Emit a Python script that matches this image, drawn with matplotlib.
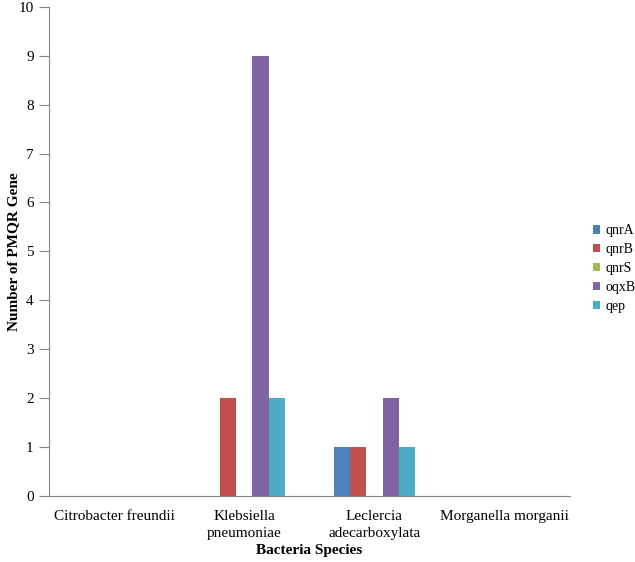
import numpy as np
import matplotlib
matplotlib.use("Agg")
import matplotlib.pyplot as plt

plt.rcParams["font.family"] = ["Liberation Serif", "DejaVu Serif"]

species = ["Citrobacter freundii", "Klebsiella\npneumoniae",
           "Leclercia\nadecarboxylata", "Morganella morganii"]
genes = ["qnrA", "qnrB", "qnrS", "oqxB", "qep"]
qnrA = [0, 0, 1, 0]
qnrB = [0, 2, 1, 0]
qnrS = [0, 0, 0, 0]
oqxB = [0, 9, 2, 0]
qep = [0, 2, 1, 0]
colors = ["#4F81BD", "#C0504D", "#9BBB59", "#8064A2", "#4BACC6"]

fig = plt.figure(figsize=(6.35, 5.62), dpi=100)
ax = fig.add_axes([0.0772, 0.118, 0.82, 0.8695])

x = np.arange(len(species))
w = 0.125
for i, (vals, c, g) in enumerate(zip([qnrA, qnrB, qnrS, oqxB, qep], colors, genes)):
    ax.bar(x + (i - 2) * w, vals, width=w, color=c, label=g)

ax.set_xlim(-0.5, 3.5)
ax.set_ylim(0, 10)
ax.set_yticks(range(0, 11))
ax.set_xticks(x)
ax.set_xticklabels(species, linespacing=1.45)
ax.tick_params(axis="x", length=0, pad=10, labelsize=11)
ax.tick_params(axis="y", length=7, color="#868686", labelsize=11, pad=4)
for s in ["top", "right"]:
    ax.spines[s].set_visible(False)
for s in ["left", "bottom"]:
    ax.spines[s].set_color("#868686")

ax.set_ylabel("Number of PMQR Gene", fontweight="bold", fontsize=11)
ax.yaxis.set_label_coords(-0.055, 0.5)
ax.set_xlabel("Bacteria Species", fontweight="bold", fontsize=11)
ax.xaxis.set_label_coords(0.5, -0.099)

ax.legend(loc="center left", bbox_to_anchor=(1.02, 0.465), frameon=False,
          fontsize=10, handlelength=0.55, handleheight=0.55, handletextpad=0.35,
          labelspacing=0.42)

fig.savefig("out.png", dpi=100)
